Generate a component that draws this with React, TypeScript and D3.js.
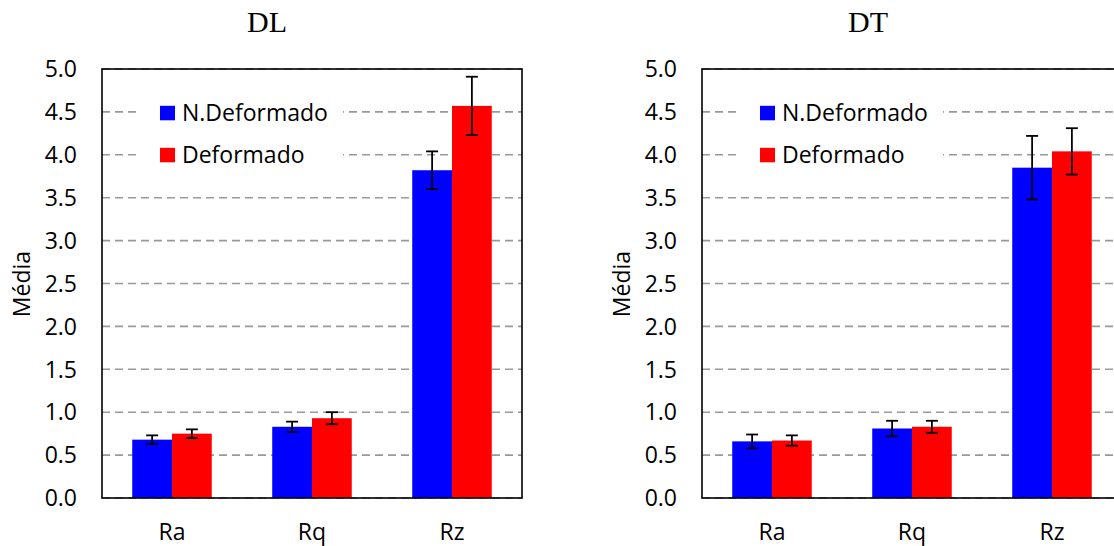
import React from "react";
import * as d3 from "d3";

const categories = ["Ra", "Rq", "Rz"];
const seriesNames = ["N.Deformado", "Deformado"];
const seriesColors = ["#0000FF", "#FF0000"];

const dlNDef = [0.68, 0.83, 3.82];
const dlNDefErr = [0.05, 0.06, 0.22];
const dlDef = [0.75, 0.93, 4.57];
const dlDefErr = [0.05, 0.07, 0.34];

const dtNDef = [0.66, 0.81, 3.85];
const dtNDefErr = [0.08, 0.09, 0.37];
const dtDef = [0.67, 0.83, 4.04];
const dtDefErr = [0.06, 0.07, 0.27];

const yTicks = [0, 0.5, 1.0, 1.5, 2.0, 2.5, 3.0, 3.5, 4.0, 4.5, 5.0];

const W = 1114;
const H = 546;
const FONT = "'Open Sans', 'Noto Sans', sans-serif";
const FS = 23;

type PanelProps = {
  x0: number;
  title: string;
  titleX: number;
  values: number[][];
  errors: number[][];
};

function Panel({ x0, title, titleX, values, errors }: PanelProps) {
  const pw = 420;
  const top = 69;
  const bottom = 498;
  const y = d3.scaleLinear().domain([0, 5]).range([bottom, top]);
  const x = d3
    .scaleBand<string>()
    .domain(categories)
    .range([x0, x0 + pw])
    .paddingInner(0.432)
    .paddingOuter(0.216);
  const xs = d3
    .scaleBand<string>()
    .domain(seriesNames)
    .range([0, x.bandwidth()])
    .padding(0);

  const legX0 = x0 + 36;
  const legX1 = x0 + 241;
  const legendRows = [113, 155];

  return (
    <g>
      <text
        x={titleX}
        y={32}
        textAnchor="middle"
        fontFamily="'Liberation Serif', 'Times New Roman', serif"
        fontSize={30}
        fill="#000"
      >
        {title}
      </text>
      {/* gridlines */}
      {yTicks.map((t) => (
        <line
          key={"g" + t}
          x1={x0}
          x2={x0 + pw}
          y1={y(t)}
          y2={y(t)}
          stroke="#999"
          strokeWidth={1.6}
          strokeDasharray="8,5"
        />
      ))}
      {/* legend background */}
      <rect x={legX0} y={88} width={legX1 - legX0} height={88} fill="#fff" />
      {/* bars */}
      {categories.map((c, ci) => (
        <g key={c}>
          {seriesNames.map((s, si) => {
            const v = values[si][ci];
            const bx = (x(c) as number) + (xs(s) as number);
            return (
              <rect
                key={s}
                x={bx}
                y={y(v)}
                width={xs.bandwidth()}
                height={y(0) - y(v)}
                fill={seriesColors[si]}
              />
            );
          })}
        </g>
      ))}
      {/* error bars */}
      {categories.map((c, ci) => (
        <g key={"e" + c}>
          {seriesNames.map((s, si) => {
            const v = values[si][ci];
            const e = errors[si][ci];
            const cx = (x(c) as number) + (xs(s) as number) + xs.bandwidth() / 2;
            return (
              <g key={s} stroke="#000" strokeWidth={1.8}>
                <line x1={cx} x2={cx} y1={y(v + e)} y2={y(v - e)} />
                <line x1={cx - 6} x2={cx + 6} y1={y(v + e)} y2={y(v + e)} />
                <line x1={cx - 6} x2={cx + 6} y1={y(v - e)} y2={y(v - e)} />
              </g>
            );
          })}
        </g>
      ))}
      {/* frame */}
      <rect
        x={x0}
        y={top}
        width={pw}
        height={bottom - top}
        fill="none"
        stroke="#000"
        strokeWidth={1.6}
      />
      {/* legend */}
      {seriesNames.map((s, si) => (
        <g key={"l" + s}>
          <rect
            x={x0 + 58}
            y={legendRows[si] - 7.2}
            width={15}
            height={14.5}
            fill={seriesColors[si]}
          />
          <text
            x={x0 + 80}
            y={legendRows[si]}
            dy="0.36em"
            fontFamily={FONT}
            fontSize={FS}
            fill="#000"
          >
            {s}
          </text>
        </g>
      ))}
      {/* y tick labels */}
      {yTicks.map((t) => (
        <text
          key={"t" + t}
          x={x0 - 25}
          y={y(t)}
          dy="0.36em"
          textAnchor="end"
          fontFamily={FONT}
          fontSize={FS}
          fill="#000"
        >
          {d3.format(".1f")(t)}
        </text>
      ))}
      {/* category labels */}
      {categories.map((c) => (
        <text
          key={"c" + c}
          x={(x(c) as number) + x.bandwidth() / 2}
          y={540}
          textAnchor="middle"
          fontFamily={FONT}
          fontSize={FS}
          fill="#000"
        >
          {c}
        </text>
      ))}
      {/* y axis title */}
      <text
        transform={`translate(${x0 - 72},284) rotate(-90)`}
        textAnchor="middle"
        fontFamily={FONT}
        fontSize={FS}
        fill="#000"
      >
        Média
      </text>
    </g>
  );
}

export default function App() {
  return (
    <svg
      width={W}
      height={H}
      style={{ position: "absolute", left: 0, top: 0, background: "#fff" }}
    >
      <rect x={0} y={0} width={W} height={H} fill="#fff" />
      <Panel
        x0={102}
        title="DL"
        titleX={267}
        values={[dlNDef, dlDef]}
        errors={[dlNDefErr, dlDefErr]}
      />
      <Panel
        x0={702}
        title="DT"
        titleX={868}
        values={[dtNDef, dtDef]}
        errors={[dtNDefErr, dtDefErr]}
      />
    </svg>
  );
}
